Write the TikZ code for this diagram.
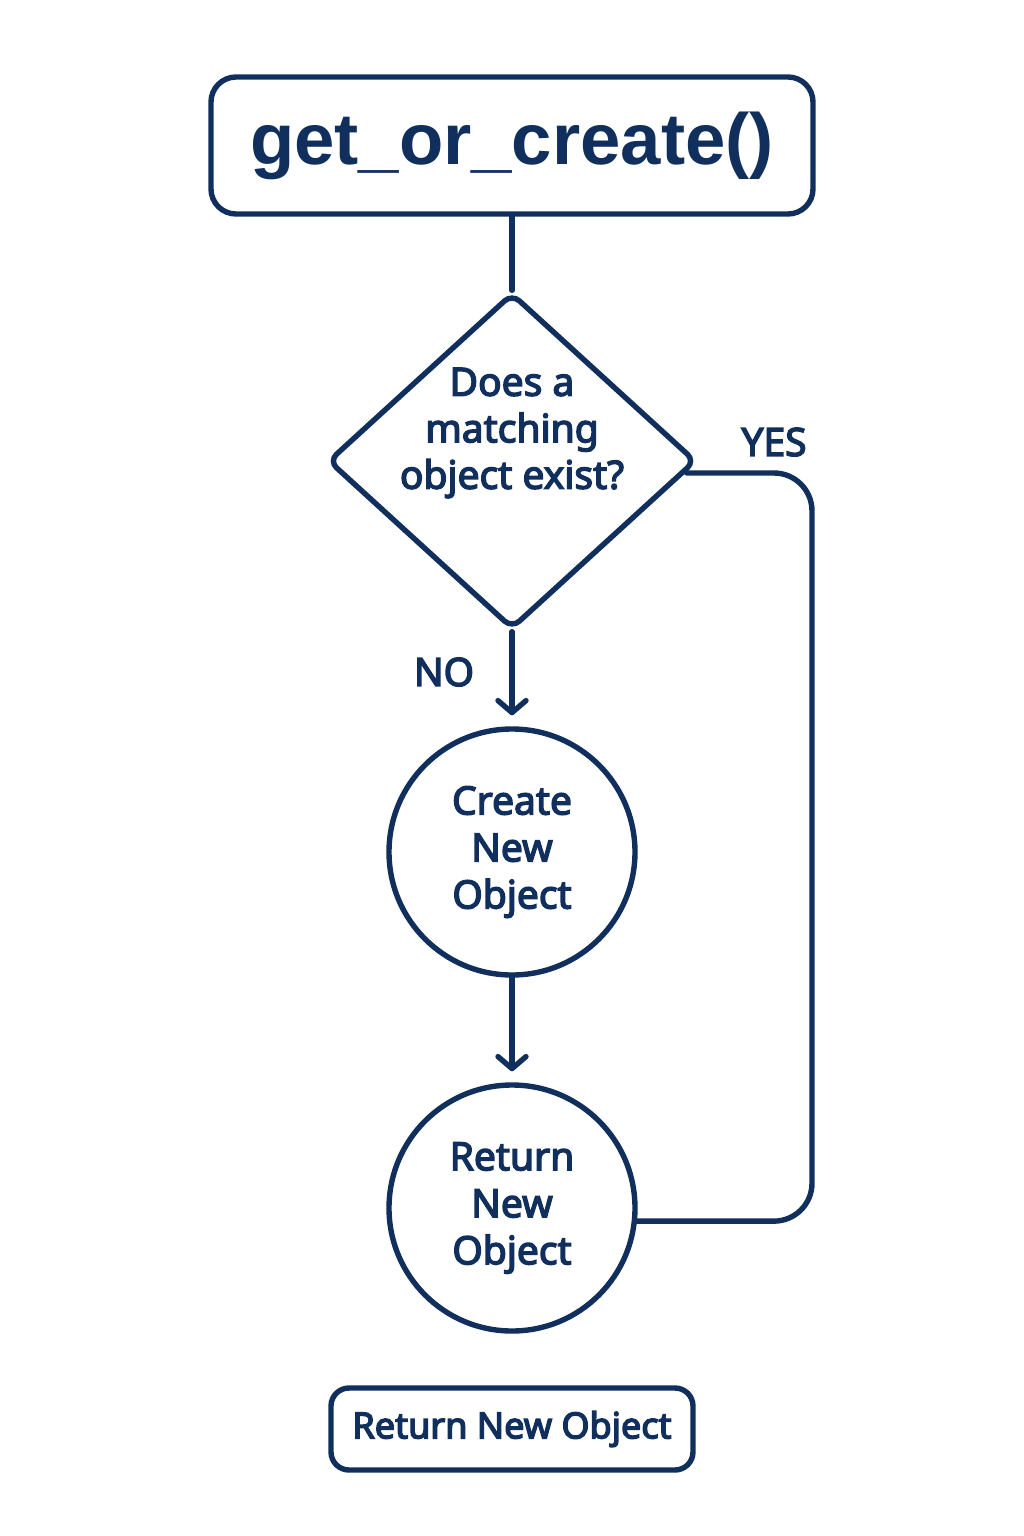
\documentclass[tikz,border=0pt]{standalone}
\usepackage{fontspec}
\usetikzlibrary{shapes.geometric,arrows.meta,calc}
\newfontfamily\titlefont{Liberation Sans}
\newfontfamily\labfont{Noto Sans}
\newcommand\heavyon{\special{pdf:literal direct 2 Tr 1.4 w}}
\newcommand\heavyoff{\special{pdf:literal direct 0 Tr}}
\definecolor{navy}{RGB}{17,47,92}
\begin{document}
\begin{tikzpicture}[x=1pt,y=-1pt,
  every node/.style={text=navy},
  lw/.style={line width=5.4pt, draw=navy},
  titlebox/.style={lw, rectangle, rounded corners=25pt, minimum width=602pt, minimum height=137pt, inner sep=0pt, font=\titlefont\bfseries\fontsize{72.5}{80}\selectfont\heavyoff},
  decision/.style={lw, diamond, minimum width=368pt, minimum height=336pt, inner sep=0pt, rounded corners=10pt},
  procnode/.style={lw, circle, minimum size=246pt, inner sep=0pt, align=center, font=\labfont\fontsize{39}{47}\selectfont\heavyon},
  endbox/.style={lw, rectangle, rounded corners=18pt, minimum width=362pt, minimum height=82pt, inner sep=0pt, font=\labfont\fontsize{36}{44}\selectfont\heavyon},
  lbl/.style={font=\labfont\fontsize{39}{44}\selectfont\heavyon, inner sep=0pt},
  conn/.style={lw, line cap=round, line join=round},
  arr/.style={conn, -{Straight Barb[length=12pt,width=28pt,round]}, shorten >=11pt},
]
\useasboundingbox[fill=white] (0,0) rectangle (1024,1536);

\node[titlebox] (title) at (512,145.5) {get\_or\_create()};
\node[decision, label={[align=center, yshift=28pt, font=\labfont\fontsize{39}{46.5}\selectfont\heavyon, text=navy]center:Does a\\matching\\object exist?}] (dia) at (512,461) {};
\node[procnode] (create) at (512,852) {Create\\New\\Object};
\node[procnode] (ret) at (512,1208) {Return\\New\\Object};
\node[endbox] (final) at (512,1429) {Return New Object};

\node[lbl] (yes) at (774,442) {YES};
\node[lbl] (no) at (444,672) {NO};

\coordinate (yesstart) at ($(dia.east)+(-12,12)$);
\coordinate (rail) at (812,473);

\draw[conn] (title.south) -- (dia.north);
\draw[arr] (dia.south) -- (create.north);
\draw[arr] (create.south) -- (ret.north);
\draw[conn, rounded corners=38pt] (yesstart) -- (rail) -- (rail |- ret.-6) -- (ret.-6);
\end{tikzpicture}
\end{document}
